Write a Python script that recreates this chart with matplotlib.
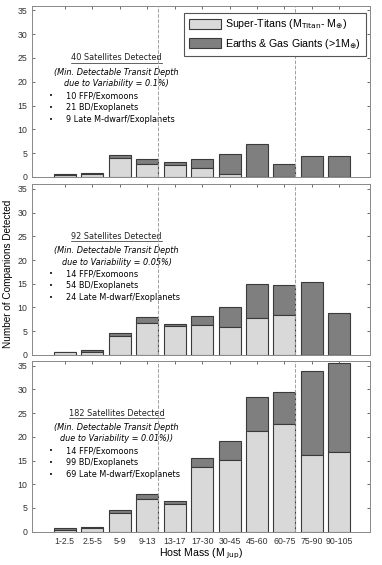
import numpy as np
import matplotlib.pyplot as plt

plt.rcParams['font.family'] = ['Liberation Sans', 'DejaVu Sans']

# host mass bins
bins = ['1-2.5', '2.5-5', '5-9', '9-13', '13-17', '17-30', '30-45',
        '45-60', '60-75', '75-90', '90-105']

# light = Super-Titans, total = light + Earths & Gas Giants
light_01 = [0.4, 0.7, 4.0, 2.8, 2.4, 1.9, 0.6, 0.0, 0.0, 0.0, 0.0]
total_01 = [0.7, 0.9, 4.5, 3.8, 3.1, 3.8, 4.8, 7.0, 2.7, 4.3, 4.4]

light_005 = [0.5, 0.7, 3.9, 6.8, 6.0, 6.2, 5.8, 7.7, 8.3, 0.0, 0.0]
total_005 = [0.7, 1.0, 4.6, 7.9, 6.5, 8.1, 10.1, 14.9, 14.8, 15.4, 8.9]

light_001 = [0.4, 0.7, 3.9, 6.8, 5.9, 13.6, 15.1, 21.3, 22.8, 16.1, 16.8]
total_001 = [0.7, 0.9, 4.5, 7.9, 6.5, 15.5, 19.2, 28.5, 29.4, 33.9, 35.5]

titles = ['40 Satellites Detected', '92 Satellites Detected', '182 Satellites Detected']
depths = ['due to Variability = 0.1%)', 'due to Variability = 0.05%)',
          'due to Variability = 0.01%))']
bullets = [['10 FFP/Exomoons', '21 BD/Exoplanets', '9 Late M-dwarf/Exoplanets'],
           ['14 FFP/Exomoons', '54 BD/Exoplanets', '24 Late M-dwarf/Exoplanets'],
           ['14 FFP/Exomoons', '99 BD/Exoplanets', '69 Late M-dwarf/Exoplanets']]

lights = [light_01, light_005, light_001]
totals = [total_01, total_005, total_001]

c_light = '#d9d9d9'
c_dark = '#7f7f7f'
edge = '#3a3a3a'

fig = plt.figure(figsize=(3.82, 5.65), dpi=100)
boxes = [[0.084, 0.687, 0.885, 0.303],
         [0.084, 0.372, 0.885, 0.302],
         [0.084, 0.059, 0.885, 0.302]]

x = np.arange(1, len(bins) + 1)
afont = 'DejaVu Sans'
for i in range(3):
    ax = fig.add_axes(boxes[i])
    lt = np.array(lights[i])
    tt = np.array(totals[i])
    ax.bar(x, tt - lt, 0.8, bottom=lt, color=c_dark, edgecolor=edge,
           linewidth=0.8, zorder=2, label='Earths & Gas Giants (>1M$_{\\oplus}$)')
    ax.bar(x, lt, 0.8, color=c_light, edgecolor=edge, linewidth=0.8,
           zorder=3, label='Super-Titans (M$_{\\mathrm{Titan}}$- M$_{\\oplus}$)')
    for xv in [4.4, 9.4]:
        ax.axvline(xv, color='#a0a0a0', ls='--', lw=0.7, zorder=4)
    ax.set_xlim(-0.19, 12.12)
    ax.set_ylim(0, 36)
    ax.set_yticks(range(0, 36, 5))
    ax.set_xticks(x)
    if i == 2:
        ax.set_xticklabels(bins, fontsize=6.2,
                           family=['Liberation Sans Narrow', 'Liberation Sans'])
        ax.set_xlabel('Host Mass (M $_{\\mathrm{Jup}}$)', fontsize=7.6, labelpad=1)
    else:
        ax.set_xticklabels([])
    ax.tick_params(direction='in', top=True, right=True, length=2.5,
                   width=0.5, labelsize=6.3, pad=3.5, colors='#333333')
    for s in ax.spines.values():
        s.set_color('#888888')
        s.set_linewidth(0.7)

    # annotation block
    ax.text(0.25, 0.68, titles[i], transform=ax.transAxes, ha='center',
            fontsize=5.9, family=afont, color='#222222')
    tw = len(titles[i]) * 0.0122
    ax.plot([0.25 - tw / 2, 0.25 + tw / 2], [0.667, 0.667], transform=ax.transAxes,
            color='#222222', lw=0.5)
    ax.text(0.25, 0.597, '(Min. Detectable Transit Depth', transform=ax.transAxes,
            ha='center', fontsize=5.9, style='italic', family=afont)
    ax.text(0.25, 0.529, depths[i], transform=ax.transAxes,
            ha='center', fontsize=5.9, style='italic', family=afont)
    for k, b in enumerate(bullets[i]):
        yy = 0.46 - k * 0.069
        ax.text(0.05, yy, '\u2022', transform=ax.transAxes, fontsize=5,
                family=afont)
        ax.text(0.10, yy, b, transform=ax.transAxes, fontsize=5.9,
                family=afont)

    if i == 0:
        h, l = ax.get_legend_handles_labels()
        leg = ax.legend(h[::-1], l[::-1], loc='upper right',
                        bbox_to_anchor=(0.988, 0.959), borderaxespad=0,
                        fontsize=7.7, fancybox=False, framealpha=1,
                        edgecolor='#555555', handlelength=3.0, handleheight=1.0,
                        handletextpad=0.4, borderpad=0.45, labelspacing=0.5)
        leg.get_frame().set_linewidth(0.8)
        leg.set_zorder(10)

fig.text(0.02, 0.515, 'Number of Companions Detected', rotation=90,
         ha='center', va='center', fontsize=7.2)

plt.savefig('out.png', dpi=100)
